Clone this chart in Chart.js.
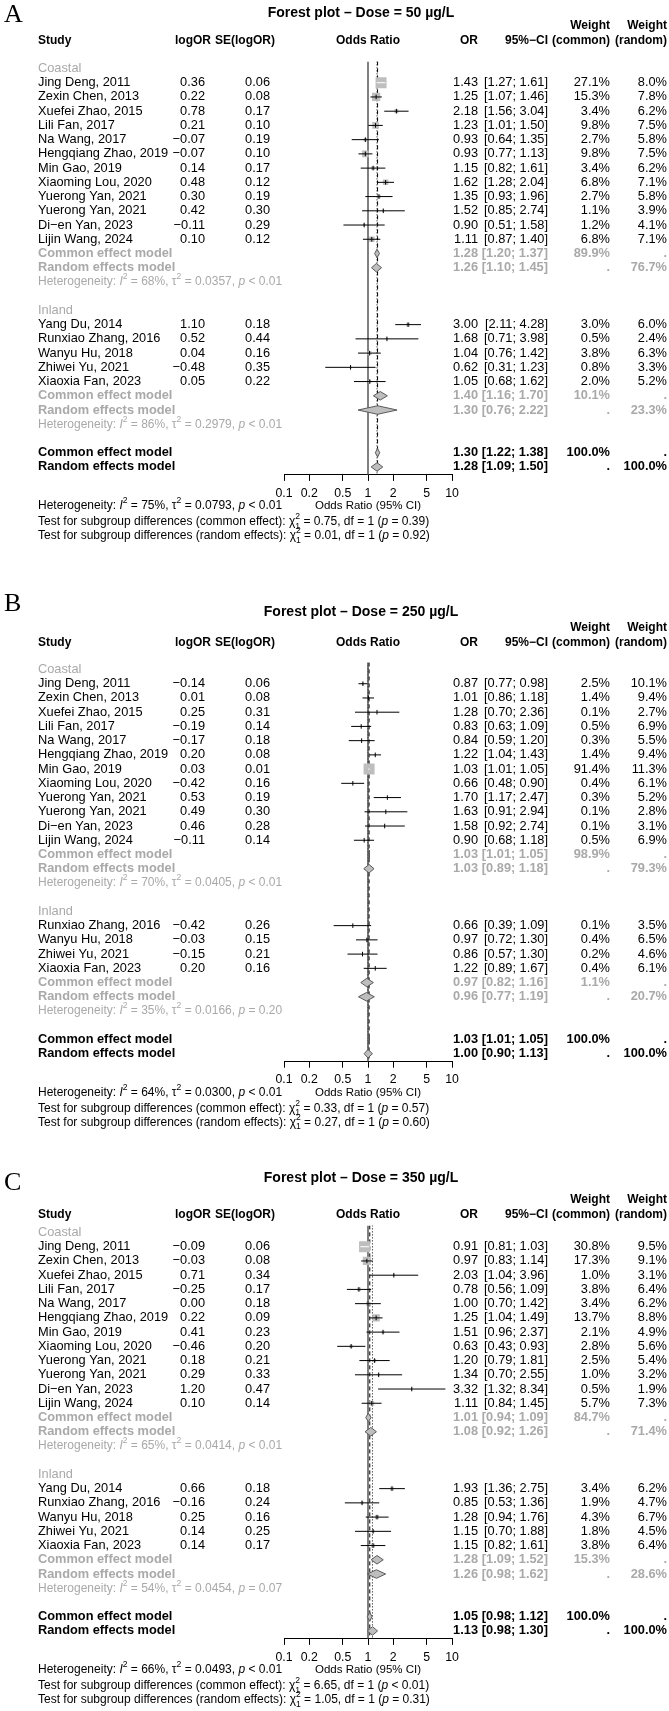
<!DOCTYPE html>
<html>
<head>
<meta charset="utf-8">
<script src="https://cdn.jsdelivr.net/npm/chart.js@4.4.1/dist/chart.umd.min.js"></script>
<style>
  html, body { margin: 0; padding: 0; background: #fff; }
  body { width: 669px; height: 1711px; position: relative; overflow: hidden; }
  canvas { position: absolute; left: 0; }
</style>
</head>
<body>
<canvas id="pA" width="669" height="570" style="top:0px"></canvas>
<canvas id="pB" width="669" height="570" style="top:570px"></canvas>
<canvas id="pC" width="669" height="571" style="top:1140px"></canvas>
<script>
// ---- data ----
const coastalStudies = ['Jing Deng, 2011', 'Zexin Chen, 2013', 'Xuefei Zhao, 2015', 'Lili Fan, 2017', 'Na Wang, 2017',
  'Hengqiang Zhao, 2019', 'Min Gao, 2019', 'Xiaoming Lou, 2020', 'Yuerong Yan, 2021', 'Yuerong Yan, 2021',
  'Di\u2212en Yan, 2023', 'Lijin Wang, 2024'];
const inlandStudies = ['Yang Du, 2014', 'Runxiao Zhang, 2016', 'Wanyu Hu, 2018', 'Zhiwei Yu, 2021', 'Xiaoxia Fan, 2023'];
const inlandStudiesB = ['Runxiao Zhang, 2016', 'Wanyu Hu, 2018', 'Zhiwei Yu, 2021', 'Xiaoxia Fan, 2023'];
const oddsTicks = [0.1, 0.2, 0.5, 1, 2, 5, 10];

// A: dose 50
const logorA_c = [0.36, 0.22, 0.78, 0.21, -0.07, -0.07, 0.14, 0.48, 0.30, 0.42, -0.11, 0.10];
const seA_c    = [0.06, 0.08, 0.17, 0.10, 0.19, 0.10, 0.17, 0.12, 0.19, 0.30, 0.29, 0.12];
const orA_c    = [1.43, 1.25, 2.18, 1.23, 0.93, 0.93, 1.15, 1.62, 1.35, 1.52, 0.90, 1.11];
const loA_c    = [1.27, 1.07, 1.56, 1.01, 0.64, 0.77, 0.82, 1.28, 0.93, 0.85, 0.51, 0.87];
const hiA_c    = [1.61, 1.46, 3.04, 1.50, 1.35, 1.13, 1.61, 2.04, 1.96, 2.74, 1.58, 1.40];
const wcA_c    = [27.1, 15.3, 3.4, 9.8, 2.7, 9.8, 3.4, 6.8, 2.7, 1.1, 1.2, 6.8];
const wrA_c    = [8.0, 7.8, 6.2, 7.5, 5.8, 7.5, 6.2, 7.1, 5.8, 3.9, 4.1, 7.1];
const logorA_i = [1.10, 0.52, 0.04, -0.48, 0.05];
const seA_i    = [0.18, 0.44, 0.16, 0.35, 0.22];
const orA_i    = [3.00, 1.68, 1.04, 0.62, 1.05];
const loA_i    = [2.11, 0.71, 0.76, 0.31, 0.68];
const hiA_i    = [4.28, 3.98, 1.42, 1.23, 1.62];
const wcA_i    = [3.0, 0.5, 3.8, 0.8, 2.0];
const wrA_i    = [6.0, 2.4, 6.3, 3.3, 5.2];
// pooled = [OR, lower, upper, weight %]
const commonA_c = [1.28, 1.20, 1.37, 89.9], randomA_c = [1.26, 1.10, 1.45, 76.7];
const commonA_i = [1.40, 1.16, 1.70, 10.1], randomA_i = [1.30, 0.76, 2.22, 23.3];
const commonA = [1.30, 1.22, 1.38, 100.0], randomA = [1.28, 1.09, 1.50, 100.0];
// heterogeneity = [I2, tau2, p]
const hetA_c = ['68', '0.0357', '< 0.01'], hetA_i = ['86', '0.2979', '< 0.01'], hetA = ['75', '0.0793', '< 0.01'];
const testA = [['0.75', '= 0.39'], ['0.01', '= 0.92']];

// B: dose 250
const logorB_c = [-0.14, 0.01, 0.25, -0.19, -0.17, 0.20, 0.03, -0.42, 0.53, 0.49, 0.46, -0.11];
const seB_c    = [0.06, 0.08, 0.31, 0.14, 0.18, 0.08, 0.01, 0.16, 0.19, 0.30, 0.28, 0.14];
const orB_c    = [0.87, 1.01, 1.28, 0.83, 0.84, 1.22, 1.03, 0.66, 1.70, 1.63, 1.58, 0.90];
const loB_c    = [0.77, 0.86, 0.70, 0.63, 0.59, 1.04, 1.01, 0.48, 1.17, 0.91, 0.92, 0.68];
const hiB_c    = [0.98, 1.18, 2.36, 1.09, 1.20, 1.43, 1.05, 0.90, 2.47, 2.94, 2.74, 1.18];
const wcB_c    = [2.5, 1.4, 0.1, 0.5, 0.3, 1.4, 91.4, 0.4, 0.3, 0.1, 0.1, 0.5];
const wrB_c    = [10.1, 9.4, 2.7, 6.9, 5.5, 9.4, 11.3, 6.1, 5.2, 2.8, 3.1, 6.9];
const logorB_i = [-0.42, -0.03, -0.15, 0.20];
const seB_i    = [0.26, 0.15, 0.21, 0.16];
const orB_i    = [0.66, 0.97, 0.86, 1.22];
const loB_i    = [0.39, 0.72, 0.57, 0.89];
const hiB_i    = [1.09, 1.30, 1.30, 1.67];
const wcB_i    = [0.1, 0.4, 0.2, 0.4];
const wrB_i    = [3.5, 6.5, 4.6, 6.1];
const commonB_c = [1.03, 1.01, 1.05, 98.9], randomB_c = [1.03, 0.89, 1.18, 79.3];
const commonB_i = [0.97, 0.82, 1.16, 1.1], randomB_i = [0.96, 0.77, 1.19, 20.7];
const commonB = [1.03, 1.01, 1.05, 100.0], randomB = [1.00, 0.90, 1.13, 100.0];
const hetB_c = ['70', '0.0405', '< 0.01'], hetB_i = ['35', '0.0166', '= 0.20'], hetB = ['64', '0.0300', '< 0.01'];
const testB = [['0.33', '= 0.57'], ['0.27', '= 0.60']];

// C: dose 350
const logorC_c = [-0.09, -0.03, 0.71, -0.25, 0.00, 0.22, 0.41, -0.46, 0.18, 0.29, 1.20, 0.10];
const seC_c    = [0.06, 0.08, 0.34, 0.17, 0.18, 0.09, 0.23, 0.20, 0.21, 0.33, 0.47, 0.14];
const orC_c    = [0.91, 0.97, 2.03, 0.78, 1.00, 1.25, 1.51, 0.63, 1.20, 1.34, 3.32, 1.11];
const loC_c    = [0.81, 0.83, 1.04, 0.56, 0.70, 1.04, 0.96, 0.43, 0.79, 0.70, 1.32, 0.84];
const hiC_c    = [1.03, 1.14, 3.96, 1.09, 1.42, 1.49, 2.37, 0.93, 1.81, 2.55, 8.34, 1.45];
const wcC_c    = [30.8, 17.3, 1.0, 3.8, 3.4, 13.7, 2.1, 2.8, 2.5, 1.0, 0.5, 5.7];
const wrC_c    = [9.5, 9.1, 3.1, 6.4, 6.2, 8.8, 4.9, 5.6, 5.4, 3.2, 1.9, 7.3];
const logorC_i = [0.66, -0.16, 0.25, 0.14, 0.14];
const seC_i    = [0.18, 0.24, 0.16, 0.25, 0.17];
const orC_i    = [1.93, 0.85, 1.28, 1.15, 1.15];
const loC_i    = [1.36, 0.53, 0.94, 0.70, 0.82];
const hiC_i    = [2.75, 1.36, 1.76, 1.88, 1.61];
const wcC_i    = [3.4, 1.9, 4.3, 1.8, 3.8];
const wrC_i    = [6.2, 4.7, 6.7, 4.5, 6.4];
const commonC_c = [1.01, 0.94, 1.09, 84.7], randomC_c = [1.08, 0.92, 1.26, 71.4];
const commonC_i = [1.28, 1.09, 1.52, 15.3], randomC_i = [1.26, 0.98, 1.62, 28.6];
const commonC = [1.05, 0.98, 1.12, 100.0], randomC = [1.13, 0.98, 1.30, 100.0];
const hetC_c = ['65', '0.0414', '< 0.01'], hetC_i = ['54', '0.0454', '= 0.07'], hetC = ['66', '0.0493', '< 0.01'];
const testC = [['6.65', '< 0.01'], ['1.05', '= 0.31']];

// ---- helpers ----
const SANS = '"Liberation Sans", Arial, Helvetica, sans-serif';
const GREY = '#a9a9a9';
const BOX = '#bebebe';
const PITCH = 14.23;
const AXIS_H = 40;
const FS = 12.8;      // body text
const FH = 12;        // column headers
const FSTAT = 12;     // heterogeneity / tests
const fmt2 = v => v.toFixed(2).replace('-', '\u2212');
const pct = v => v.toFixed(1) + '%';
const ci = (lo, hi) => `[${lo.toFixed(2)}; ${hi.toFixed(2)}]`;

function setFont(ctx, size, bold, italic){
  ctx.font = `${italic ? 'italic ' : ''}${bold ? 'bold ' : ''}${size}px ${SANS}`;
}
function text(ctx, s, x, y, align, size, bold, color){
  setFont(ctx, size, bold); ctx.textAlign = align; ctx.textBaseline = 'middle';
  ctx.fillStyle = color; ctx.fillText(s, x, y);
}
// segments: [text, kind]  kind: 'i' italic, 'sup', 'ss' = sup|sub stacked
function rich(ctx, segs, x, y, size, color){
  ctx.textAlign = 'left'; ctx.textBaseline = 'middle'; ctx.fillStyle = color;
  const small = size * 0.72;
  let cx = x;
  for (const [s, k] of segs){
    if (k === 'sup'){
      setFont(ctx, small); ctx.fillText(s, cx, y - size * 0.42); cx += ctx.measureText(s).width;
    } else if (k === 'ss'){
      const [a, b] = s.split('|'); setFont(ctx, small);
      ctx.fillText(a, cx, y - size * 0.42); ctx.fillText(b, cx, y + size * 0.36);
      cx += Math.max(ctx.measureText(a).width, ctx.measureText(b).width);
    } else {
      setFont(ctx, size, false, k === 'i'); ctx.fillText(s, cx, y); cx += ctx.measureText(s).width;
    }
  }
}
const hetSegs = h => [['Heterogeneity: '], ['I', 'i'], ['2', 'sup'], [` = ${h[0]}%, `], ['\u03c4'], ['2', 'sup'],
  [` = ${h[1]}, `], ['p', 'i'], [` ${h[2]}`]];
const testSegs = (kind, t) => [[`Test for subgroup differences (${kind}): `], ['\u03c7'], ['2|1', 'ss'],
  [` = ${t[0]}, df = 1 (`], ['p', 'i'], [` ${t[1]})`]];

function inside(chart, s){
  const xs = chart.scales.x, h = s.side / 2, c = xs.getPixelForValue(s.or);
  return xs.getPixelForValue(s.lo) >= c - h && xs.getPixelForValue(s.hi) <= c + h;
}

const group = (label, names, logor, se, or, lo, hi, wc, wr, common, random, het) =>
  ({ label, names, logor, se, or, lo, hi, wc, wr, common, random, het });

const panels = [
  { id: 'pA', letter: 'A', dose: '50', y0: 68.5, dy: { title: -55.5, letter: -53.5, weight: -42.5, head: -27.5 },
    groups: [group('Coastal', coastalStudies, logorA_c, seA_c, orA_c, loA_c, hiA_c, wcA_c, wrA_c, commonA_c, randomA_c, hetA_c),
             group('Inland', inlandStudies, logorA_i, seA_i, orA_i, loA_i, hiA_i, wcA_i, wrA_i, commonA_i, randomA_i, hetA_i)],
    common: commonA, random: randomA, het: hetA, tests: testA },
  { id: 'pB', letter: 'B', dose: '250', y0: 99.5, dy: { title: -57.5, letter: -65.5, weight: -41.5, head: -26.5 },
    groups: [group('Coastal', coastalStudies, logorB_c, seB_c, orB_c, loB_c, hiB_c, wcB_c, wrB_c, commonB_c, randomB_c, hetB_c),
             group('Inland', inlandStudiesB, logorB_i, seB_i, orB_i, loB_i, hiB_i, wcB_i, wrB_i, commonB_i, randomB_i, hetB_i)],
    common: commonB, random: randomB, het: hetB, tests: testB },
  { id: 'pC', letter: 'C', dose: '350', y0: 92.5, dy: { title: -54.5, letter: -49.5, weight: -32.5, head: -17.5 },
    groups: [group('Coastal', coastalStudies, logorC_c, seC_c, orC_c, loC_c, hiC_c, wcC_c, wrC_c, commonC_c, randomC_c, hetC_c),
             group('Inland', inlandStudies, logorC_i, seC_i, orC_i, loC_i, hiC_i, wcC_i, wrC_i, commonC_i, randomC_i, hetC_i)],
    common: commonC, random: randomC, het: hetC, tests: testC }
];

// ---- text layer ----
function drawText(chart, P, L){
  const ctx = chart.ctx, ys = chart.scales.y, yp = v => ys.getPixelForValue(v);
  const y0 = yp(0);
  ctx.save();
  ctx.font = '26px "Liberation Serif", "Times New Roman", serif';
  ctx.textAlign = 'left'; ctx.textBaseline = 'middle'; ctx.fillStyle = '#000';
  ctx.fillText(P.letter, 4, y0 + P.dy.letter);
  text(ctx, `Forest plot \u2013 Dose = ${P.dose} \u00b5g/L`, 361, y0 + P.dy.title, 'center', 14, true, '#000');

  const yw = y0 + P.dy.weight, yh = y0 + P.dy.head;
  text(ctx, 'Weight', 610, yw, 'right', FH, true, '#000');
  text(ctx, 'Weight', 667, yw, 'right', FH, true, '#000');
  text(ctx, 'Study', 38, yh, 'left', FH, true, '#000');
  text(ctx, 'logOR', 211, yh, 'right', FH, true, '#000');
  text(ctx, 'SE(logOR)', 275, yh, 'right', FH, true, '#000');
  text(ctx, 'Odds Ratio', 368, yh, 'center', FH, true, '#000');
  text(ctx, 'OR', 478, yh, 'right', FH, true, '#000');
  text(ctx, '95%\u2212CI', 548, yh, 'right', FH, true, '#000');
  text(ctx, '(common)', 610, yh, 'right', FH, true, '#000');
  text(ctx, '(random)', 667, yh, 'right', FH, true, '#000');

  L.labels.forEach(l => text(ctx, l.text, 38, yp(l.r), 'left', FS, false, GREY));
  L.studies.forEach(s => {
    const y = yp(s.r);
    text(ctx, s.name, 38, y, 'left', FS, false, '#000');
    text(ctx, fmt2(s.logor), 205, y, 'right', FS, false, '#000');
    text(ctx, s.se.toFixed(2), 270, y, 'right', FS, false, '#000');
    text(ctx, s.or.toFixed(2), 478, y, 'right', FS, false, '#000');
    text(ctx, ci(s.lo, s.hi), 548, y, 'right', FS, false, '#000');
    text(ctx, pct(s.wc), 610, y, 'right', FS, false, '#000');
    text(ctx, pct(s.wr), 667, y, 'right', FS, false, '#000');
  });
  L.pooled.forEach(p => {
    const y = yp(p.r), col = p.sub ? GREY : '#000', isC = p.type === 'common';
    text(ctx, isC ? 'Common effect model' : 'Random effects model', 38, y, 'left', FS, true, col);
    text(ctx, p.v[0].toFixed(2), 478, y, 'right', FS, true, col);
    text(ctx, ci(p.v[1], p.v[2]), 548, y, 'right', FS, true, col);
    text(ctx, isC ? pct(p.v[3]) : '.', 610, y, 'right', FS, true, col);
    text(ctx, isC ? '.' : pct(p.v[3]), 667, y, 'right', FS, true, col);
  });
  L.hets.forEach(h => rich(ctx, hetSegs(h.h), 38, yp(h.r), FSTAT, GREY));

  const yR = yp(L.last);
  rich(ctx, hetSegs(P.het), 38, yR + 39, FSTAT, '#000');
  text(ctx, 'Odds Ratio (95% CI)', 368, yR + 39, 'center', 11.5, false, '#000');
  rich(ctx, testSegs('common effect', P.tests[0]), 38, yR + 55, FSTAT, '#000');
  rich(ctx, testSegs('random effects', P.tests[1]), 38, yR + 69, FSTAT, '#000');
  ctx.restore();
}

// ---- charts ----
function buildPanel(P){
  const canvas = document.getElementById(P.id);
  const studies = [], pooled = [], labels = [], hets = [];
  let r = 0;
  P.groups.forEach(g => {
    labels.push({ r: r++, text: g.label });
    g.names.forEach((name, i) => studies.push({ r: r++, name, logor: g.logor[i], se: g.se[i], or: g.or[i],
      lo: g.lo[i], hi: g.hi[i], wc: g.wc[i], wr: g.wr[i] }));
    pooled.push({ r: r++, type: 'common', v: g.common, sub: true });
    pooled.push({ r: r++, type: 'random', v: g.random, sub: true });
    hets.push({ r: r++, h: g.het });
    r++;
  });
  pooled.push({ r: r++, type: 'common', v: P.common, sub: false });
  pooled.push({ r: r, type: 'random', v: P.random, sub: false });
  const last = r;
  const yMax = last + 0.56;
  const top = P.y0 - 0.5 * PITCH;
  const bottom = P.y0 + yMax * PITCH;
  const wmax = Math.max(...studies.map(s => s.wc));
  studies.forEach(s => { s.side = 11 * Math.sqrt(s.wc / wmax); });

  const vline = (x, color, dash, width) => ({ data: [{ x, y: -0.5 }, { x, y: yMax }], borderColor: color,
    borderWidth: width, borderDash: dash, pointRadius: 0, fill: false, order: 10 });

  const datasets = [
    vline(1, '#3c3c3c', [], 1.3),
    vline(P.common[0], '#000', [4, 3], 1),
    vline(P.random[0], '#000', [1, 2], 1),
    { data: studies.map(s => ({ x: s.or, y: s.r })), showLine: false, pointStyle: 'rect',
      pointRadius: studies.map(s => s.side / Math.SQRT2), pointBackgroundColor: BOX, pointBorderWidth: 0, order: 6 },
    { data: studies.flatMap(s => [{ x: s.lo, y: s.r }, { x: s.hi, y: s.r }, { x: null, y: null }]),
      borderColor: '#000', borderWidth: 1, pointRadius: 0, fill: false, spanGaps: false,
      segment: { borderColor: c => inside(c.chart, studies[Math.floor(c.p0DataIndex / 3)]) ? '#fff' : '#000' }, order: 5 },
    { data: studies.map(s => ({ x: s.or, y: s.r })), showLine: false, pointStyle: 'line', pointRotation: 90,
      pointRadius: c => inside(c.chart, studies[c.dataIndex]) ? 0 : 2.3,
      pointBorderColor: '#000', pointBorderWidth: 1, order: 4 },
    ...pooled.map(p => ({
      data: [{ x: p.v[1], y: p.r }, { x: p.v[0], y: p.r - 0.3 }, { x: p.v[2], y: p.r }, { x: p.v[0], y: p.r + 0.3 }, { x: p.v[1], y: p.r }],
      borderColor: '#5a5a5a', borderWidth: 1, backgroundColor: BOX, fill: 'shape', pointRadius: 0,
      borderJoinStyle: 'miter', order: 3 }))
  ];

  return new Chart(canvas, {
    type: 'line',
    data: { datasets },
    options: {
      responsive: false, animation: false, devicePixelRatio: 1,
      layout: { padding: { left: 284, right: 217, top: top, bottom: canvas.height - bottom - AXIS_H } },
      plugins: { legend: { display: false }, tooltip: { enabled: false } },
      scales: {
        x: {
          type: 'logarithmic', min: 0.1, max: 10,
          afterBuildTicks: s => { s.ticks = oddsTicks.map(v => ({ value: v })); },
          afterFit: s => { s.height = AXIS_H; },
          grid: { drawOnChartArea: false, tickLength: 6, color: '#000', tickColor: '#000', lineWidth: 1 },
          border: { display: true, color: '#000', width: 1 },
          ticks: { padding: 5, color: '#000', autoSkip: false, maxRotation: 0,
                   font: { family: SANS, size: 12.3 }, callback: v => String(v) }
        },
        y: { type: 'linear', reverse: true, min: -0.5, max: yMax, display: false }
      }
    },
    plugins: [{ id: 'forestText', afterDraw: chart => drawText(chart, P, { studies, pooled, labels, hets, last }) }]
  });
}

panels.forEach(buildPanel);
</script>
</body>
</html>
